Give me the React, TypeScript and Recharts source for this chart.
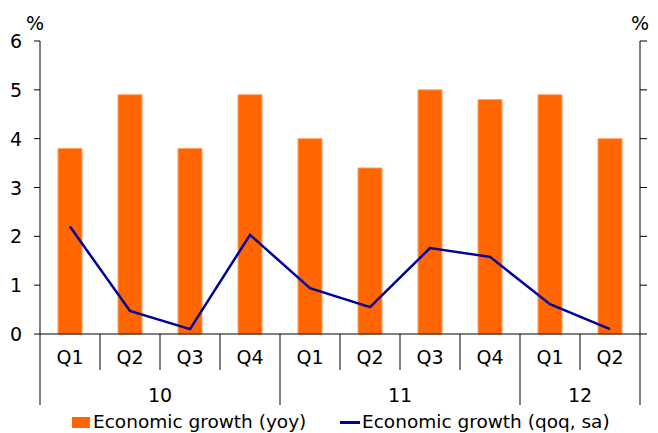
import React from 'react';
import { ComposedChart, Bar, Line, XAxis, YAxis } from 'recharts';

const quarters = ['Q1', 'Q2', 'Q3', 'Q4', 'Q1', 'Q2', 'Q3', 'Q4', 'Q1', 'Q2'];
const years = ['10', '10', '10', '10', '11', '11', '11', '11', '12', '12'];
const yoy = [3.8, 4.9, 3.8, 4.9, 4.0, 3.4, 5.0, 4.8, 4.9, 4.0];
const qoq = [2.2, 0.47, 0.1, 2.03, 0.94, 0.55, 1.76, 1.58, 0.61, 0.1];
const yTicks = [0, 1, 2, 3, 4, 5, 6];

const data = quarters.map((q, i) => ({ q, year: years[i], yoy: yoy[i], qoq: qoq[i] }));

const FONT = '"DejaVu Sans", Verdana, sans-serif';
const ORANGE = '#ff6600';
const NAVY = '#000099';
const BAND = 60;

const CategoryTick = (props: any) => {
    const { x, y, payload } = props;
    const i = payload.index;
    const left = x - BAND / 2;
    const yearStart = i === 0 || years[i] !== years[i - 1];
    const isLast = i === quarters.length - 1;
    let groupLen = 0;
    if (yearStart) {
        while (i + groupLen < years.length && years[i + groupLen] === years[i]) groupLen++;
    }
    return (
        <g>
            <line x1={left} y1={y} x2={left} y2={yearStart ? y + 71 : y + 36} stroke="#000" strokeWidth={1} />
            {isLast && <line x1={left + BAND} y1={y} x2={left + BAND} y2={y + 71} stroke="#000" strokeWidth={1} />}
            <text x={x} y={y + 30} textAnchor="middle" fontSize={19} fontFamily={FONT} fill="#000">{payload.value}</text>
            {yearStart && (
                <text x={left + (groupLen * BAND) / 2} y={y + 68} textAnchor="middle" fontSize={19} fontFamily={FONT} fill="#000">
                    {years[i]}
                </text>
            )}
        </g>
    );
};

// left axis tick: label plus a matching outward mark on the right axis at the same value
const LeftTick = (props: any) => {
    const { x, y, payload } = props;
    return (
        <g>
            <text x={x} y={y} dy={7} textAnchor="end" fontSize={19} fontFamily={FONT} fill="#000">{payload.value}</text>
            <line x1={640} y1={y} x2={647} y2={y} stroke="#000" strokeWidth={1} />
        </g>
    );
};

const pctLabel = (dx: number) => (props: any) => {
    const { viewBox } = props;
    return (
        <text x={viewBox.x + dx} y={viewBox.y - 11} textAnchor="middle" fontSize={19} fontFamily={FONT} fill="#000">%</text>
    );
};

export default function App() {
    return (
        <div style={{ position: 'absolute', left: 0, top: 0, width: 658, height: 433, background: '#fff', fontFamily: FONT }}>
            <ComposedChart width={658} height={406} data={data} margin={{ top: 41, right: 0, bottom: 0, left: 0 }} barSize={24}>
                <XAxis
                    dataKey="q"
                    height={72}
                    interval={0}
                    tickLine={false}
                    tickSize={0}
                    tickMargin={0}
                    axisLine={{ stroke: '#000' }}
                    tick={<CategoryTick />}
                />
                <YAxis
                    yAxisId="left"
                    width={40}
                    domain={[0, 6]}
                    ticks={yTicks}
                    interval={0}
                    tickSize={6}
                    tickMargin={12}
                    axisLine={{ stroke: '#000' }}
                    tickLine={{ stroke: '#000' }}
                    tick={<LeftTick />}
                    label={{ content: pctLabel(35) }}
                />
                <YAxis
                    yAxisId="right"
                    orientation="right"
                    width={18}
                    domain={[0, 6]}
                    ticks={yTicks}
                    tick={false}
                    tickLine={false}
                    axisLine={{ stroke: '#000' }}
                    label={{ content: pctLabel(0) }}
                />
                <Bar yAxisId="left" dataKey="yoy" fill={ORANGE} stroke="#ffa366" strokeWidth={1} isAnimationActive={false} />
                <Line
                    yAxisId="right"
                    dataKey="qoq"
                    type="linear"
                    stroke={NAVY}
                    strokeWidth={2.5}
                    dot={false}
                    activeDot={false}
                    isAnimationActive={false}
                />
            </ComposedChart>
            <div style={{ position: 'absolute', top: 411, left: 0, width: 658, fontSize: 18.5, color: '#000', lineHeight: '22px' }}>
                <div style={{ position: 'absolute', left: 72, display: 'flex', alignItems: 'center', whiteSpace: 'nowrap' }}>
                    <span style={{ display: 'inline-block', width: 18, height: 11, background: ORANGE, marginRight: 3 }} />
                    <span>Economic growth (yoy)</span>
                </div>
                <div style={{ position: 'absolute', left: 340, display: 'flex', alignItems: 'center', whiteSpace: 'nowrap' }}>
                    <span style={{ display: 'inline-block', width: 20, height: 3, background: NAVY, marginRight: 2 }} />
                    <span>Economic growth (qoq, sa)</span>
                </div>
            </div>
        </div>
    );
}
